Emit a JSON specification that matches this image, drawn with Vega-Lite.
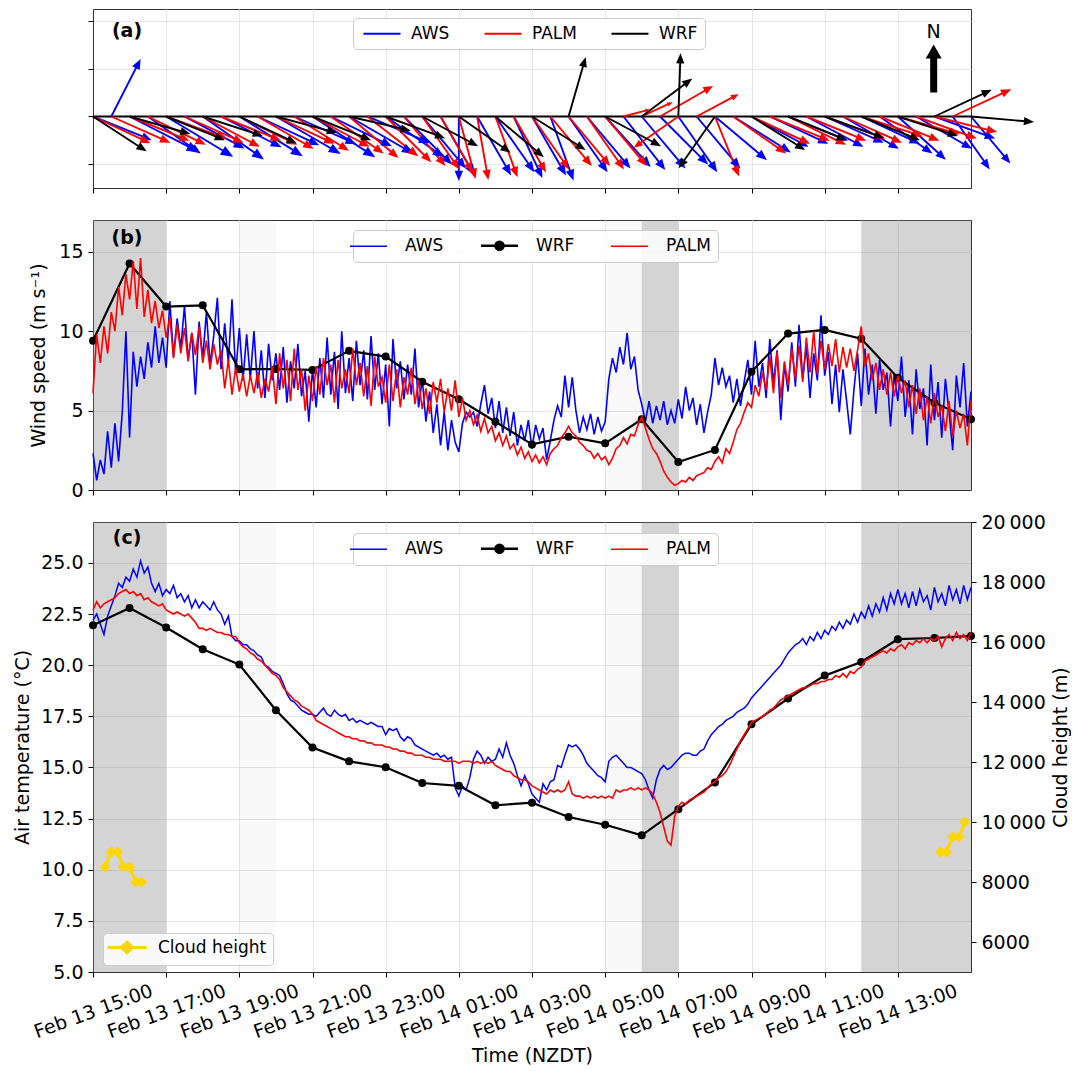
{
"$schema": "https://vega.github.io/schema/vega-lite/v6.json",
"autosize": {"type": "pad"},
"padding": {"left": 13, "top": 8, "right": 0, "bottom": 0},
"background": "white",
"config": {
  "font": "DejaVu Sans",
  "view": {"stroke": "#333333", "strokeWidth": 1},
  "axis": {"labelFont": "DejaVu Sans", "titleFont": "DejaVu Sans", "labelFontSize": 19, "titleFontSize": 19, "titleFontWeight": "normal", "labelColor": "#000000", "titleColor": "#000000", "tickColor": "#000000", "domainColor": "#333333", "gridColor": "#e6e6e6", "gridWidth": 1, "tickSize": 5, "labelPadding": 5, "titlePadding": 8},
  "legend": {"labelFont": "DejaVu Sans", "labelFontSize": 17, "labelColor": "#000000", "padding": 7, "fillColor": "rgba(255,255,255,0.85)", "strokeColor": "#cccccc", "cornerRadius": 4, "symbolSize": 1369, "symbolStrokeWidth": 1.8, "labelOffset": 13, "columnPadding": 32, "direction": "horizontal", "orient": "none"}
},
"datasets": {
  "shade": [{"h0":0,"h1":2,"k":"d"},{"h0":4,"h1":5,"k":"l"},{"h0":14,"h1":15,"k":"l"},{"h0":15,"h1":16,"k":"d"},{"h0":21,"h1":24,"k":"d"}],
  "wrf": [{"h":0,"ws":9.4,"t":21.95},{"h":1,"ws":14.26,"t":22.8},{"h":2,"ws":11.55,"t":21.84},{"h":3,"ws":11.63,"t":20.78},{"h":4,"ws":7.6,"t":20.03},{"h":5,"ws":7.62,"t":17.8},{"h":6,"ws":7.56,"t":15.97},{"h":7,"ws":8.76,"t":15.3},{"h":8,"ws":8.4,"t":15.01},{"h":9,"ws":6.82,"t":14.24},{"h":10,"ws":5.71,"t":14.1},{"h":11,"ws":4.3,"t":13.15},{"h":12,"ws":2.87,"t":13.28},{"h":13,"ws":3.36,"t":12.58},{"h":14,"ws":2.94,"t":12.2},{"h":15,"ws":4.45,"t":11.68},{"h":16,"ws":1.76,"t":12.96},{"h":17,"ws":2.52,"t":14.26},{"h":18,"ws":7.45,"t":17.11},{"h":19,"ws":9.85,"t":18.37},{"h":20,"ws":10.08,"t":19.49},{"h":21,"ws":9.53,"t":20.16},{"h":22,"ws":7.07,"t":21.27},{"h":23,"ws":5.5,"t":21.33},{"h":24,"ws":4.45,"t":21.43}],
  "cloud": [{"h":0.33,"c":8500,"g":1},{"h":0.5,"c":9000,"g":1},{"h":0.67,"c":9000,"g":1},{"h":0.83,"c":8500,"g":1},{"h":1.0,"c":8500,"g":1},{"h":1.17,"c":8000,"g":1},{"h":1.33,"c":8000,"g":1},{"h":23.17,"c":9000,"g":2},{"h":23.33,"c":9000,"g":2},{"h":23.5,"c":9500,"g":2},{"h":23.67,"c":9500,"g":2},{"h":23.83,"c":10000,"g":2}],
  "ws": [
{"h":0.0,"a":2.3,"p":6.1},{"h":0.1,"a":0.6,"p":9.8},{"h":0.2,"a":1.9,"p":8.0},{"h":0.3,"a":1.0,"p":10.3},{"h":0.4,"a":3.7,"p":8.6},{"h":0.5,"a":1.4,"p":11.2},{"h":0.6,"a":4.2,"p":10.0},{"h":0.7,"a":1.8,"p":12.8},{"h":0.8,"a":4.9,"p":11.0},{"h":0.9,"a":10.0,"p":13.6},
{"h":1.0,"a":3.3,"p":12.0},{"h":1.1,"a":8.7,"p":14.4},{"h":1.2,"a":6.5,"p":11.4},{"h":1.3,"a":8.4,"p":14.6},{"h":1.4,"a":7.0,"p":10.9},{"h":1.5,"a":9.3,"p":12.6},{"h":1.6,"a":7.7,"p":10.5},{"h":1.7,"a":10.3,"p":11.9},{"h":1.8,"a":8.0,"p":10.2},{"h":1.9,"a":9.6,"p":11.3},
{"h":2.0,"a":7.7,"p":9.6},{"h":2.1,"a":11.9,"p":10.9},{"h":2.2,"a":8.4,"p":8.3},{"h":2.3,"a":10.8,"p":10.4},{"h":2.4,"a":8.9,"p":8.6},{"h":2.5,"a":11.6,"p":10.2},{"h":2.6,"a":8.2,"p":8.1},{"h":2.7,"a":9.9,"p":9.9},{"h":2.8,"a":6.0,"p":8.5},{"h":2.9,"a":10.6,"p":10.3},
{"h":3.0,"a":8.3,"p":8.0},{"h":3.1,"a":11.2,"p":9.4},{"h":3.2,"a":7.9,"p":7.6},{"h":3.3,"a":9.7,"p":9.2},{"h":3.4,"a":12.1,"p":7.9},{"h":3.5,"a":7.6,"p":8.8},{"h":3.6,"a":10.5,"p":6.4},{"h":3.7,"a":8.0,"p":8.2},{"h":3.8,"a":12.0,"p":6.0},{"h":3.9,"a":7.3,"p":7.7},
{"h":4.0,"a":10.2,"p":6.2},{"h":4.1,"a":6.9,"p":7.3},{"h":4.2,"a":9.8,"p":5.9},{"h":4.3,"a":7.0,"p":7.2},{"h":4.4,"a":10.0,"p":6.1},{"h":4.5,"a":6.4,"p":7.4},{"h":4.6,"a":8.8,"p":5.8},{"h":4.7,"a":5.8,"p":7.0},{"h":4.8,"a":9.2,"p":6.2},{"h":4.9,"a":6.9,"p":7.8},
{"h":5.0,"a":8.6,"p":5.4},{"h":5.1,"a":6.3,"p":8.6},{"h":5.2,"a":9.0,"p":6.4},{"h":5.3,"a":5.5,"p":8.2},{"h":5.4,"a":8.1,"p":5.6},{"h":5.5,"a":6.4,"p":8.9},{"h":5.6,"a":9.2,"p":6.3},{"h":5.7,"a":5.9,"p":7.6},{"h":5.8,"a":7.5,"p":5.0},{"h":5.9,"a":4.3,"p":7.2},
{"h":6.0,"a":7.6,"p":5.6},{"h":6.1,"a":5.2,"p":7.8},{"h":6.2,"a":8.3,"p":6.0},{"h":6.3,"a":5.8,"p":8.3},{"h":6.4,"a":9.6,"p":6.6},{"h":6.5,"a":6.0,"p":7.9},{"h":6.6,"a":8.7,"p":5.5},{"h":6.7,"a":5.1,"p":8.2},{"h":6.8,"a":10.0,"p":6.4},{"h":6.9,"a":6.1,"p":7.6},
{"h":7.0,"a":8.3,"p":6.1},{"h":7.1,"a":5.6,"p":8.9},{"h":7.2,"a":9.4,"p":6.6},{"h":7.3,"a":6.6,"p":8.0},{"h":7.4,"a":8.8,"p":5.9},{"h":7.5,"a":5.7,"p":7.8},{"h":7.6,"a":9.7,"p":5.3},{"h":7.7,"a":6.3,"p":8.4},{"h":7.8,"a":8.6,"p":6.5},{"h":7.9,"a":5.4,"p":7.1},
{"h":8.0,"a":7.9,"p":5.5},{"h":8.1,"a":4.0,"p":7.9},{"h":8.2,"a":9.5,"p":5.6},{"h":8.3,"a":6.4,"p":7.6},{"h":8.4,"a":8.1,"p":5.2},{"h":8.5,"a":5.7,"p":7.1},{"h":8.6,"a":7.9,"p":6.0},{"h":8.7,"a":6.0,"p":7.7},{"h":8.8,"a":8.9,"p":5.4},{"h":8.9,"a":5.2,"p":6.9},
{"h":9.0,"a":7.0,"p":5.1},{"h":9.1,"a":4.3,"p":6.4},{"h":9.2,"a":6.2,"p":4.8},{"h":9.3,"a":3.6,"p":6.8},{"h":9.4,"a":5.4,"p":5.5},{"h":9.5,"a":2.8,"p":7.0},{"h":9.6,"a":4.9,"p":4.9},{"h":9.7,"a":2.5,"p":6.4},{"h":9.8,"a":4.4,"p":5.0},{"h":9.9,"a":3.0,"p":6.9},
{"h":10.0,"a":2.4,"p":4.6},{"h":10.1,"a":4.2,"p":5.8},{"h":10.2,"a":4.9,"p":4.4},{"h":10.3,"a":4.6,"p":5.0},{"h":10.4,"a":4.9,"p":4.1},{"h":10.5,"a":4.0,"p":4.7},{"h":10.6,"a":5.4,"p":3.7},{"h":10.7,"a":6.6,"p":4.5},{"h":10.8,"a":4.8,"p":3.6},{"h":10.9,"a":5.8,"p":4.0},
{"h":11.0,"a":3.9,"p":3.1},{"h":11.1,"a":5.6,"p":3.6},{"h":11.2,"a":3.6,"p":2.8},{"h":11.3,"a":5.2,"p":3.4},{"h":11.4,"a":3.4,"p":2.6},{"h":11.5,"a":4.9,"p":2.9},{"h":11.6,"a":2.8,"p":2.2},{"h":11.7,"a":4.1,"p":2.7},{"h":11.8,"a":3.1,"p":2.0},{"h":11.9,"a":4.4,"p":2.4},
{"h":12.0,"a":2.6,"p":1.8},{"h":12.1,"a":4.1,"p":2.2},{"h":12.2,"a":3.2,"p":1.7},{"h":12.3,"a":3.9,"p":2.1},{"h":12.4,"a":1.9,"p":1.6},{"h":12.5,"a":3.1,"p":2.3},{"h":12.6,"a":4.4,"p":2.6},{"h":12.7,"a":5.3,"p":2.8},{"h":12.8,"a":4.6,"p":3.3},{"h":12.9,"a":7.2,"p":3.6},
{"h":13.0,"a":5.2,"p":4.0},{"h":13.1,"a":7.1,"p":3.6},{"h":13.2,"a":5.0,"p":3.4},{"h":13.3,"a":3.6,"p":3.0},{"h":13.4,"a":4.6,"p":2.8},{"h":13.5,"a":3.8,"p":2.5},{"h":13.6,"a":4.8,"p":2.4},{"h":13.7,"a":3.5,"p":2.0},{"h":13.8,"a":4.6,"p":2.3},{"h":13.9,"a":3.7,"p":1.9},
{"h":14.0,"a":4.3,"p":2.1},{"h":14.1,"a":7.0,"p":1.6},{"h":14.2,"a":8.3,"p":2.0},{"h":14.3,"a":7.4,"p":2.6},{"h":14.4,"a":9.0,"p":2.8},{"h":14.5,"a":7.9,"p":3.3},{"h":14.6,"a":9.9,"p":2.9},{"h":14.7,"a":7.6,"p":3.5},{"h":14.8,"a":8.4,"p":3.4},{"h":14.9,"a":6.3,"p":4.1},
{"h":15.0,"a":5.4,"p":4.6},{"h":15.1,"a":4.3,"p":3.9},{"h":15.2,"a":5.6,"p":3.2},{"h":15.3,"a":4.2,"p":2.6},{"h":15.4,"a":5.3,"p":2.3},{"h":15.5,"a":4.4,"p":1.8},{"h":15.6,"a":5.6,"p":1.2},{"h":15.7,"a":4.1,"p":0.8},{"h":15.8,"a":5.0,"p":0.5},{"h":15.9,"a":4.2,"p":0.3},
{"h":16.0,"a":5.7,"p":0.4},{"h":16.1,"a":4.5,"p":0.6},{"h":16.2,"a":6.5,"p":0.5},{"h":16.3,"a":5.0,"p":0.8},{"h":16.4,"a":5.8,"p":0.6},{"h":16.5,"a":4.1,"p":0.9},{"h":16.6,"a":5.4,"p":1.0},{"h":16.7,"a":3.6,"p":1.1},{"h":16.8,"a":4.9,"p":1.4},{"h":16.9,"a":6.0,"p":1.3},
{"h":17.0,"a":8.3,"p":1.8},{"h":17.1,"a":6.6,"p":2.1},{"h":17.2,"a":7.7,"p":1.7},{"h":17.3,"a":6.5,"p":2.6},{"h":17.4,"a":7.2,"p":2.3},{"h":17.5,"a":5.5,"p":3.0},{"h":17.6,"a":7.0,"p":3.8},{"h":17.7,"a":5.3,"p":4.2},{"h":17.8,"a":6.8,"p":4.9},{"h":17.9,"a":8.2,"p":5.5},
{"h":18.0,"a":6.0,"p":5.2},{"h":18.1,"a":9.4,"p":6.6},{"h":18.2,"a":6.5,"p":5.9},{"h":18.3,"a":8.0,"p":7.4},{"h":18.4,"a":5.8,"p":6.3},{"h":18.5,"a":9.5,"p":8.4},{"h":18.6,"a":6.7,"p":6.1},{"h":18.7,"a":8.8,"p":8.7},{"h":18.8,"a":4.4,"p":5.8},{"h":18.9,"a":7.9,"p":8.1},
{"h":19.0,"a":6.2,"p":6.6},{"h":19.1,"a":9.3,"p":8.9},{"h":19.2,"a":6.5,"p":7.0},{"h":19.3,"a":10.4,"p":9.1},{"h":19.4,"a":7.0,"p":6.8},{"h":19.5,"a":9.1,"p":9.6},{"h":19.6,"a":5.8,"p":7.4},{"h":19.7,"a":8.6,"p":10.0},{"h":19.8,"a":6.9,"p":7.3},{"h":19.9,"a":11.0,"p":9.4},
{"h":20.0,"a":7.2,"p":7.6},{"h":20.1,"a":8.7,"p":9.2},{"h":20.2,"a":5.4,"p":7.8},{"h":20.3,"a":7.9,"p":9.5},{"h":20.4,"a":4.9,"p":7.4},{"h":20.5,"a":7.6,"p":9.0},{"h":20.6,"a":5.6,"p":7.7},{"h":20.7,"a":3.5,"p":8.9},{"h":20.8,"a":6.3,"p":7.5},{"h":20.9,"a":8.6,"p":8.8},
{"h":21.0,"a":5.3,"p":10.3},{"h":21.1,"a":8.9,"p":7.8},{"h":21.2,"a":6.0,"p":8.6},{"h":21.3,"a":7.9,"p":6.9},{"h":21.4,"a":4.8,"p":8.0},{"h":21.5,"a":8.2,"p":6.3},{"h":21.6,"a":6.3,"p":7.6},{"h":21.7,"a":7.4,"p":6.0},{"h":21.8,"a":4.0,"p":7.4},{"h":21.9,"a":7.3,"p":5.9},
{"h":22.0,"a":5.6,"p":7.2},{"h":22.1,"a":8.4,"p":6.1},{"h":22.2,"a":4.6,"p":6.9},{"h":22.3,"a":6.9,"p":5.2},{"h":22.4,"a":3.5,"p":6.6},{"h":22.5,"a":7.6,"p":4.8},{"h":22.6,"a":5.1,"p":6.4},{"h":22.7,"a":6.4,"p":4.4},{"h":22.8,"a":2.8,"p":5.9},{"h":22.9,"a":7.9,"p":4.2},
{"h":23.0,"a":4.4,"p":6.1},{"h":23.1,"a":6.8,"p":4.6},{"h":23.2,"a":3.3,"p":5.3},{"h":23.3,"a":7.0,"p":3.7},{"h":23.4,"a":4.9,"p":5.6},{"h":23.5,"a":2.5,"p":3.4},{"h":23.6,"a":7.2,"p":5.0},{"h":23.7,"a":5.2,"p":3.9},{"h":23.8,"a":8.0,"p":4.8},{"h":23.9,"a":4.0,"p":2.8},
{"h":24.0,"a":6.2,"p":5.6}],
  "ta": [
{"h":0.0,"a":22.2,"p":22.7},{"h":0.1,"a":22.5,"p":23.1},{"h":0.2,"a":22.0,"p":22.8},{"h":0.3,"a":21.5,"p":23.0},{"h":0.4,"a":22.4,"p":23.1},{"h":0.5,"a":22.9,"p":23.2},{"h":0.6,"a":23.4,"p":23.3},{"h":0.7,"a":24.0,"p":23.5},{"h":0.8,"a":23.8,"p":23.6},{"h":0.9,"a":24.3,"p":23.7},
{"h":1.0,"a":24.1,"p":23.5},{"h":1.1,"a":24.7,"p":23.6},{"h":1.2,"a":24.3,"p":23.4},{"h":1.3,"a":25.1,"p":23.5},{"h":1.4,"a":24.5,"p":23.2},{"h":1.5,"a":24.8,"p":23.3},{"h":1.6,"a":24.0,"p":23.1},{"h":1.7,"a":23.6,"p":23.0},{"h":1.8,"a":24.0,"p":22.9},{"h":1.9,"a":23.4,"p":23.0},
{"h":2.0,"a":23.7,"p":22.7},{"h":2.1,"a":23.5,"p":22.6},{"h":2.2,"a":23.9,"p":22.5},{"h":2.3,"a":23.3,"p":22.6},{"h":2.4,"a":23.5,"p":22.5},{"h":2.5,"a":23.1,"p":22.4},{"h":2.6,"a":23.4,"p":22.5},{"h":2.7,"a":22.8,"p":22.3},{"h":2.8,"a":23.2,"p":22.1},{"h":2.9,"a":22.8,"p":21.8},
{"h":3.0,"a":23.1,"p":21.8},{"h":3.1,"a":22.9,"p":21.7},{"h":3.2,"a":22.7,"p":21.8},{"h":3.3,"a":23.1,"p":21.7},{"h":3.4,"a":22.7,"p":21.6},{"h":3.5,"a":22.5,"p":21.6},{"h":3.6,"a":22.0,"p":21.5},{"h":3.7,"a":22.4,"p":21.5},{"h":3.8,"a":21.4,"p":21.4},{"h":3.9,"a":21.2,"p":21.4},
{"h":4.0,"a":21.2,"p":21.1},{"h":4.1,"a":21.0,"p":20.9},{"h":4.2,"a":21.0,"p":20.8},{"h":4.3,"a":20.8,"p":20.6},{"h":4.4,"a":20.7,"p":20.5},{"h":4.5,"a":20.5,"p":20.3},{"h":4.6,"a":20.4,"p":20.2},{"h":4.7,"a":20.0,"p":20.0},{"h":4.8,"a":19.9,"p":19.8},{"h":4.9,"a":19.7,"p":19.6},
{"h":5.0,"a":19.6,"p":19.5},{"h":5.1,"a":19.5,"p":19.3},{"h":5.2,"a":19.1,"p":18.9},{"h":5.3,"a":18.6,"p":18.7},{"h":5.4,"a":18.3,"p":18.5},{"h":5.5,"a":18.2,"p":18.3},{"h":5.6,"a":18.0,"p":18.2},{"h":5.7,"a":17.8,"p":18.0},{"h":5.8,"a":17.7,"p":17.9},{"h":5.9,"a":17.6,"p":17.8},
{"h":6.0,"a":17.6,"p":17.6},{"h":6.1,"a":17.5,"p":17.3},{"h":6.2,"a":17.7,"p":17.2},{"h":6.3,"a":17.9,"p":17.1},{"h":6.4,"a":17.6,"p":17.0},{"h":6.5,"a":17.5,"p":16.9},{"h":6.6,"a":17.8,"p":16.8},{"h":6.7,"a":17.6,"p":16.7},{"h":6.8,"a":17.5,"p":16.6},{"h":6.9,"a":17.6,"p":16.5},
{"h":7.0,"a":17.3,"p":16.5},{"h":7.1,"a":17.4,"p":16.4},{"h":7.2,"a":17.2,"p":16.4},{"h":7.3,"a":17.3,"p":16.3},{"h":7.4,"a":17.2,"p":16.3},{"h":7.5,"a":17.1,"p":16.2},{"h":7.6,"a":17.2,"p":16.2},{"h":7.7,"a":17.1,"p":16.1},{"h":7.8,"a":17.0,"p":16.1},{"h":7.9,"a":17.0,"p":16.1},
{"h":8.0,"a":16.6,"p":16.0},{"h":8.1,"a":16.9,"p":16.0},{"h":8.2,"a":16.8,"p":15.9},{"h":8.3,"a":16.9,"p":15.9},{"h":8.4,"a":16.5,"p":15.8},{"h":8.5,"a":16.3,"p":15.8},{"h":8.6,"a":16.5,"p":15.7},{"h":8.7,"a":16.4,"p":15.7},{"h":8.8,"a":16.1,"p":15.6},{"h":8.9,"a":16.0,"p":15.6},
{"h":9.0,"a":15.9,"p":15.6},{"h":9.1,"a":15.8,"p":15.5},{"h":9.2,"a":15.7,"p":15.5},{"h":9.3,"a":15.6,"p":15.4},{"h":9.4,"a":15.7,"p":15.4},{"h":9.5,"a":15.5,"p":15.4},{"h":9.6,"a":15.6,"p":15.3},{"h":9.7,"a":15.4,"p":15.3},{"h":9.8,"a":15.5,"p":15.3},{"h":9.9,"a":14.0,"p":15.3},
{"h":10.0,"a":13.6,"p":15.2},{"h":10.1,"a":14.1,"p":15.3},{"h":10.2,"a":13.9,"p":15.3},{"h":10.3,"a":14.5,"p":15.3},{"h":10.4,"a":15.4,"p":15.2},{"h":10.5,"a":15.8,"p":15.3},{"h":10.6,"a":15.6,"p":15.2},{"h":10.7,"a":15.2,"p":15.3},{"h":10.8,"a":15.5,"p":15.2},{"h":10.9,"a":15.3,"p":15.3},
{"h":11.0,"a":15.4,"p":15.1},{"h":11.1,"a":15.9,"p":15.0},{"h":11.2,"a":15.5,"p":14.9},{"h":11.3,"a":16.2,"p":14.8},{"h":11.4,"a":15.6,"p":14.8},{"h":11.5,"a":15.2,"p":14.6},{"h":11.6,"a":14.6,"p":14.5},{"h":11.7,"a":14.1,"p":14.4},{"h":11.8,"a":14.6,"p":14.4},{"h":11.9,"a":14.2,"p":14.3},
{"h":12.0,"a":13.7,"p":14.1},{"h":12.1,"a":13.5,"p":14.0},{"h":12.2,"a":13.3,"p":13.9},{"h":12.3,"a":14.2,"p":13.8},{"h":12.4,"a":13.9,"p":13.7},{"h":12.5,"a":14.3,"p":13.9},{"h":12.6,"a":14.4,"p":13.8},{"h":12.7,"a":15.1,"p":13.9},{"h":12.8,"a":15.0,"p":13.8},{"h":12.9,"a":15.6,"p":13.9},
{"h":13.0,"a":16.1,"p":14.3},{"h":13.1,"a":16.0,"p":13.7},{"h":13.2,"a":16.1,"p":13.6},{"h":13.3,"a":15.9,"p":13.6},{"h":13.4,"a":15.6,"p":13.5},{"h":13.5,"a":15.2,"p":13.6},{"h":13.6,"a":15.0,"p":13.5},{"h":13.7,"a":14.8,"p":13.6},{"h":13.8,"a":14.6,"p":13.5},{"h":13.9,"a":14.5,"p":13.6},
{"h":14.0,"a":14.3,"p":13.5},{"h":14.1,"a":15.3,"p":13.6},{"h":14.2,"a":15.5,"p":13.5},{"h":14.3,"a":15.6,"p":13.9},{"h":14.4,"a":15.4,"p":13.8},{"h":14.5,"a":15.2,"p":13.9},{"h":14.6,"a":15.0,"p":13.9},{"h":14.7,"a":15.0,"p":14.0},{"h":14.8,"a":14.9,"p":13.9},{"h":14.9,"a":14.8,"p":14.0},
{"h":15.0,"a":14.7,"p":13.9},{"h":15.1,"a":14.4,"p":14.0},{"h":15.2,"a":13.9,"p":13.9},{"h":15.3,"a":13.5,"p":13.7},{"h":15.4,"a":14.4,"p":13.3},{"h":15.5,"a":14.9,"p":12.8},{"h":15.6,"a":15.1,"p":12.1},{"h":15.7,"a":14.9,"p":11.4},{"h":15.8,"a":15.0,"p":11.2},{"h":15.9,"a":15.2,"p":12.6},
{"h":16.0,"a":15.4,"p":13.1},{"h":16.1,"a":15.6,"p":13.3},{"h":16.2,"a":15.7,"p":13.2},{"h":16.3,"a":15.7,"p":13.4},{"h":16.4,"a":15.6,"p":13.5},{"h":16.5,"a":15.6,"p":13.6},{"h":16.6,"a":15.8,"p":13.7},{"h":16.7,"a":15.9,"p":13.8},{"h":16.8,"a":16.3,"p":14.0},{"h":16.9,"a":16.6,"p":14.2},
{"h":17.0,"a":16.8,"p":14.3},{"h":17.1,"a":17.0,"p":14.5},{"h":17.2,"a":17.1,"p":14.6},{"h":17.3,"a":17.3,"p":14.8},{"h":17.4,"a":17.4,"p":15.1},{"h":17.5,"a":17.5,"p":15.5},{"h":17.6,"a":17.7,"p":15.9},{"h":17.7,"a":17.8,"p":16.3},{"h":17.8,"a":17.9,"p":16.6},{"h":17.9,"a":18.1,"p":16.9},
{"h":18.0,"a":18.4,"p":17.2},{"h":18.1,"a":18.6,"p":17.3},{"h":18.2,"a":18.8,"p":17.4},{"h":18.3,"a":19.0,"p":17.5},{"h":18.4,"a":19.2,"p":17.6},{"h":18.5,"a":19.4,"p":17.8},{"h":18.6,"a":19.6,"p":17.9},{"h":18.7,"a":19.8,"p":18.1},{"h":18.8,"a":20.0,"p":18.3},{"h":18.9,"a":20.3,"p":18.4},
{"h":19.0,"a":20.6,"p":18.5},{"h":19.1,"a":20.8,"p":18.6},{"h":19.2,"a":21.0,"p":18.7},{"h":19.3,"a":21.1,"p":18.8},{"h":19.4,"a":21.3,"p":18.9},{"h":19.5,"a":21.0,"p":18.9},{"h":19.6,"a":21.4,"p":19.0},{"h":19.7,"a":21.2,"p":19.1},{"h":19.8,"a":21.6,"p":19.1},{"h":19.9,"a":21.3,"p":19.2},
{"h":20.0,"a":21.7,"p":19.2},{"h":20.1,"a":21.5,"p":19.3},{"h":20.2,"a":21.9,"p":19.3},{"h":20.3,"a":21.7,"p":19.5},{"h":20.4,"a":22.1,"p":19.4},{"h":20.5,"a":21.8,"p":19.6},{"h":20.6,"a":22.2,"p":19.4},{"h":20.7,"a":22.0,"p":19.7},{"h":20.8,"a":22.5,"p":19.6},{"h":20.9,"a":22.1,"p":19.8},
{"h":21.0,"a":22.6,"p":19.9},{"h":21.1,"a":22.3,"p":20.2},{"h":21.2,"a":22.9,"p":20.3},{"h":21.3,"a":22.4,"p":20.4},{"h":21.4,"a":23.0,"p":20.5},{"h":21.5,"a":22.6,"p":20.6},{"h":21.6,"a":23.3,"p":20.7},{"h":21.7,"a":22.7,"p":20.6},{"h":21.8,"a":23.5,"p":20.8},{"h":21.9,"a":23.0,"p":20.7},
{"h":22.0,"a":23.7,"p":20.9},{"h":22.1,"a":23.0,"p":21.0},{"h":22.2,"a":23.5,"p":20.8},{"h":22.3,"a":22.8,"p":21.1},{"h":22.4,"a":23.6,"p":21.0},{"h":22.5,"a":22.9,"p":21.2},{"h":22.6,"a":23.7,"p":21.1},{"h":22.7,"a":23.1,"p":21.3},{"h":22.8,"a":23.4,"p":21.1},{"h":22.9,"a":22.7,"p":21.3},
{"h":23.0,"a":23.8,"p":21.2},{"h":23.1,"a":23.1,"p":21.4},{"h":23.2,"a":23.5,"p":20.9},{"h":23.3,"a":22.9,"p":21.3},{"h":23.4,"a":23.9,"p":21.5},{"h":23.5,"a":23.2,"p":21.2},{"h":23.6,"a":23.7,"p":21.6},{"h":23.7,"a":23.0,"p":21.3},{"h":23.8,"a":23.9,"p":21.5},{"h":23.9,"a":23.2,"p":21.2},
{"h":24.0,"a":23.8,"p":21.6}],
  "quiver": [
{"h":0,"s":"AWS","d":112,"l":9.3},{"h":0.5,"s":"AWS","d":27,"l":9.5},{"h":1,"s":"AWS","d":117,"l":11.5},{"h":1.5,"s":"AWS","d":125,"l":9.5},{"h":2,"s":"AWS","d":121,"l":11.5},{"h":2.5,"s":"AWS","d":118,"l":10},{"h":3,"s":"AWS","d":125,"l":11},{"h":3.5,"s":"AWS","d":117,"l":10},{"h":4,"s":"AWS","d":122,"l":11},{"h":4.5,"s":"AWS","d":115,"l":10},{"h":5,"s":"AWS","d":120,"l":11},{"h":5.5,"s":"AWS","d":114,"l":10},{"h":6,"s":"AWS","d":123,"l":11},{"h":6.5,"s":"AWS","d":116,"l":10},{"h":7,"s":"AWS","d":120,"l":11},{"h":7.5,"s":"AWS","d":113,"l":10},{"h":8,"s":"AWS","d":125,"l":10.5},{"h":8.5,"s":"AWS","d":135,"l":10},{"h":9,"s":"AWS","d":140,"l":10},{"h":9.5,"s":"AWS","d":150,"l":10},{"h":10,"s":"AWS","d":180,"l":9.5},{"h":10.5,"s":"AWS","d":150,"l":10},{"h":11,"s":"AWS","d":145,"l":10},{"h":11.5,"s":"AWS","d":155,"l":10},{"h":12,"s":"AWS","d":150,"l":10},{"h":12.5,"s":"AWS","d":160,"l":10},{"h":13,"s":"AWS","d":145,"l":10},{"h":13.5,"s":"AWS","d":140,"l":10},{"h":14,"s":"AWS","d":138,"l":10},{"h":14.5,"s":"AWS","d":142,"l":10},{"h":15,"s":"AWS","d":140,"l":10},{"h":15.5,"s":"AWS","d":135,"l":10},{"h":16,"s":"AWS","d":145,"l":10},{"h":16.5,"s":"AWS","d":140,"l":10},{"h":17,"s":"AWS","d":130,"l":10},{"h":17.5,"s":"AWS","d":122,"l":10},{"h":18,"s":"AWS","d":118,"l":9.5},{"h":18.5,"s":"AWS","d":115,"l":9.5},{"h":19,"s":"AWS","d":112,"l":9.5},{"h":19.5,"s":"AWS","d":118,"l":9.5},{"h":20,"s":"AWS","d":114,"l":9.5},{"h":20.5,"s":"AWS","d":120,"l":9.5},{"h":21,"s":"AWS","d":115,"l":9.5},{"h":21.5,"s":"AWS","d":125,"l":9.5},{"h":22,"s":"AWS","d":132,"l":9.5},{"h":22.5,"s":"AWS","d":120,"l":9.5},{"h":23,"s":"AWS","d":110,"l":9.5},{"h":23.5,"s":"AWS","d":145,"l":9.5},{"h":24,"s":"AWS","d":140,"l":9},
{"h":0,"s":"PALM","d":115,"l":9.3},{"h":0.5,"s":"PALM","d":114,"l":9.5},{"h":1,"s":"PALM","d":112,"l":9.5},{"h":1.5,"s":"PALM","d":116,"l":9.5},{"h":2,"s":"PALM","d":110,"l":9.5},{"h":2.5,"s":"PALM","d":114,"l":9.5},{"h":3,"s":"PALM","d":118,"l":9.5},{"h":3.5,"s":"PALM","d":112,"l":9.5},{"h":4,"s":"PALM","d":116,"l":9.5},{"h":4.5,"s":"PALM","d":120,"l":9.5},{"h":5,"s":"PALM","d":115,"l":9.5},{"h":5.5,"s":"PALM","d":122,"l":9.5},{"h":6,"s":"PALM","d":118,"l":9.5},{"h":6.5,"s":"PALM","d":125,"l":9.5},{"h":7,"s":"PALM","d":130,"l":9.5},{"h":7.5,"s":"PALM","d":128,"l":9.5},{"h":8,"s":"PALM","d":135,"l":9.5},{"h":8.5,"s":"PALM","d":140,"l":9.5},{"h":9,"s":"PALM","d":145,"l":9.5},{"h":9.5,"s":"PALM","d":150,"l":9.5},{"h":10,"s":"PALM","d":165,"l":9.5},{"h":10.5,"s":"PALM","d":170,"l":9.5},{"h":11,"s":"PALM","d":160,"l":9.5},{"h":11.5,"s":"PALM","d":150,"l":9.5},{"h":12,"s":"PALM","d":145,"l":9.5},{"h":12.5,"s":"PALM","d":140,"l":9.5},{"h":13,"s":"PALM","d":140,"l":9.5},{"h":13.5,"s":"PALM","d":145,"l":9.5},{"h":14,"s":"PALM","d":140,"l":9.5},{"h":14.5,"s":"PALM","d":75,"l":4},{"h":15,"s":"PALM","d":65,"l":5},{"h":15.5,"s":"PALM","d":60,"l":9},{"h":16,"s":"PALM","d":235,"l":8},{"h":16.5,"s":"PALM","d":62,"l":7},{"h":17,"s":"PALM","d":158,"l":9.5},{"h":17.5,"s":"PALM","d":125,"l":9.5},{"h":18,"s":"PALM","d":115,"l":9.5},{"h":18.5,"s":"PALM","d":112,"l":9.5},{"h":19,"s":"PALM","d":116,"l":9.5},{"h":19.5,"s":"PALM","d":112,"l":9.5},{"h":20,"s":"PALM","d":110,"l":9.5},{"h":20.5,"s":"PALM","d":114,"l":9.5},{"h":21,"s":"PALM","d":108,"l":9.5},{"h":21.5,"s":"PALM","d":112,"l":9.5},{"h":22,"s":"PALM","d":106,"l":9.5},{"h":22.5,"s":"PALM","d":110,"l":9.5},{"h":23,"s":"PALM","d":104,"l":9.5},{"h":23.5,"s":"PALM","d":65,"l":9.5},
{"h":0,"s":"WRF","d":123,"l":9.4},{"h":1,"s":"WRF","d":106,"l":9.3},{"h":2,"s":"WRF","d":112,"l":9.3},{"h":3,"s":"WRF","d":108,"l":9.3},{"h":4,"s":"WRF","d":115,"l":9.3},{"h":5,"s":"WRF","d":105,"l":9.3},{"h":6,"s":"WRF","d":112,"l":9.3},{"h":7,"s":"WRF","d":103,"l":9.3},{"h":8,"s":"WRF","d":110,"l":9.3},{"h":9,"s":"WRF","d":118,"l":9.3},{"h":10,"s":"WRF","d":125,"l":9.3},{"h":11,"s":"WRF","d":130,"l":9.3},{"h":12,"s":"WRF","d":122,"l":9.3},{"h":13,"s":"WRF","d":16,"l":9.1},{"h":14,"s":"WRF","d":118,"l":9.3},{"h":15,"s":"WRF","d":53,"l":9.3},{"h":16,"s":"WRF","d":2,"l":9.3},{"h":17,"s":"WRF","d":215,"l":9.3},{"h":18,"s":"WRF","d":122,"l":9.3},{"h":19,"s":"WRF","d":112,"l":9.3},{"h":20,"s":"WRF","d":110,"l":9.3},{"h":21,"s":"WRF","d":112,"l":9.3},{"h":22,"s":"WRF","d":108,"l":9.3},{"h":23,"s":"WRF","d":65,"l":9.3},{"h":24,"s":"WRF","d":95,"l":9.3}]
},
"spacing": 32,
"bounds": "flush",
"resolve": {"scale": {"x": "independent", "y": "independent", "color": "independent", "stroke": "independent"}, "legend": {"color": "independent", "stroke": "independent"}},
"vconcat": [
 {
  "width": 878, "height": 179,
  "layer": [
   {"data": {"values": [{}]},
    "mark": {"type": "rule", "color": "#000000", "strokeWidth": 2},
    "encoding": {
      "x": {"datum": 0, "type": "quantitative", "scale": {"domain": [0, 24], "nice": false, "zero": false}, "axis": {"values": [0,2,4,6,8,10,12,14,16,18,20,22], "labels": false, "title": null, "grid": true}},
      "x2": {"datum": 24},
      "y": {"datum": 0, "type": "quantitative", "scale": {"domain": [-1.49, 2.24], "nice": false, "zero": false}, "axis": {"values": [-1, 0, 1, 2], "labels": false, "title": null, "grid": true}}
    }},
   {"data": {"name": "quiver"},
    "mark": {"type": "line", "strokeWidth": 0},
    "encoding": {
      "x": {"field": "h", "type": "quantitative"},
      "y": {"datum": 0, "type": "quantitative"},
      "color": {"field": "s", "type": "nominal", "scale": {"domain": ["AWS", "PALM", "WRF"], "range": ["#0000ff", "#ff0000", "#000000"]},
        "legend": {"title": null, "legendX": 260, "legendY": 9, "symbolType": "stroke", "symbolSize": 100, "labelOffset": 34, "columnPadding": 30,
          "encode": {"symbols": {"update": {"shape": {"signal": "'M-1,0L6.4,0'"}, "strokeWidth": {"signal": "2.2"}, "opacity": {"signal": "1"}}}}}}
    }},
   {"data": {"name": "quiver"},
    "mark": {"type": "point", "shape": "M0,0L0,-1.75", "filled": false, "strokeWidth": 1.9, "opacity": 1},
    "encoding": {
      "x": {"field": "h", "type": "quantitative"},
      "y": {"datum": 0, "type": "quantitative"},
      "color": {"field": "s", "type": "nominal"},
      "angle": {"field": "d", "type": "quantitative", "scale": {"domain": [0, 360], "range": [0, 360]}},
      "size": {"field": "l", "type": "quantitative", "scale": {"type": "pow", "exponent": 2, "domain": [0, 20], "range": [0, 18496]}, "legend": null}
    }},
   {"data": {"name": "quiver"},
    "mark": {"type": "point", "shape": "M-0.13,-1.68L0,-2L0.13,-1.68Z", "filled": true, "opacity": 1},
    "encoding": {
      "x": {"field": "h", "type": "quantitative"},
      "y": {"datum": 0, "type": "quantitative"},
      "color": {"field": "s", "type": "nominal"},
      "angle": {"field": "d", "type": "quantitative", "scale": {"domain": [0, 360], "range": [0, 360]}},
      "size": {"field": "l", "type": "quantitative", "scale": {"type": "pow", "exponent": 2, "domain": [0, 20], "range": [0, 18496]}, "legend": null}
    }},
   {"data": {"values": [{}]},
    "mark": {"type": "point", "shape": "M-0.146,0L-0.146,-1.42L-0.333,-1.42L0,-2L0.333,-1.42L0.146,-1.42L0.146,0Z", "filled": true, "color": "#000000", "size": 2304, "opacity": 1},
    "encoding": {"x": {"datum": 22.98, "type": "quantitative"}, "y": {"datum": 0.5, "type": "quantitative"}}},
   {"data": {"values": [{}]},
    "mark": {"type": "text", "text": "N", "fontSize": 19, "font": "DejaVu Sans", "color": "#000000", "baseline": "middle", "align": "center"},
    "encoding": {"x": {"datum": 22.98, "type": "quantitative"}, "y": {"datum": 1.77, "type": "quantitative"}}},
   {"data": {"values": [{}]},
    "mark": {"type": "text", "text": "(a)", "fontSize": 19, "fontWeight": "bold", "font": "DejaVu Sans", "color": "#000000", "baseline": "middle", "align": "center"},
    "encoding": {"x": {"datum": 0.93, "type": "quantitative"}, "y": {"datum": 1.79, "type": "quantitative"}}}
  ]
 },
 {
  "width": 878, "height": 270,
  "layer": [
   {"data": {"name": "shade"},
    "mark": {"type": "rect", "color": "#808080"},
    "encoding": {
      "x": {"field": "h0", "type": "quantitative", "scale": {"domain": [0, 24], "nice": false, "zero": false}, "axis": {"values": [0,2,4,6,8,10,12,14,16,18,20,22], "labels": false, "title": null, "grid": true}},
      "x2": {"field": "h1"},
      "opacity": {"field": "k", "type": "ordinal", "scale": {"domain": ["d", "l"], "range": [0.34, 0.05]}, "legend": null}
    }},
   {"data": {"name": "ws"},
    "mark": {"type": "line", "strokeWidth": 1.6},
    "encoding": {
      "x": {"field": "h", "type": "quantitative"},
      "y": {"field": "a", "type": "quantitative", "title": "Wind speed (m s⁻¹)", "scale": {"domain": [0, 17], "nice": false, "zero": false}, "axis": {"values": [0, 5, 10, 15], "grid": true, "titlePadding": 10}},
      "color": {"datum": "AWS", "type": "nominal", "scale": {"domain": ["AWS", "WRF", "PALM"], "range": ["#0000ff", "#000000", "#ff0000"]},
        "legend": {"title": null, "legendX": 260, "legendY": 10, "symbolType": "stroke", "symbolSize": 1369, "labelOffset": 28,
          "encode": {"symbols": {"update": {
            "shape": {"signal": "datum.value === 'WRF' ? 'M-1,0L1,0M0.22,0A0.22,0.22 0 1 1 -0.22,0A0.22,0.22 0 1 1 0.22,0' : 'stroke'"},
            "fill": {"signal": "datum.value === 'WRF' ? '#000000' : 'transparent'"},
            "strokeWidth": {"signal": "datum.value === 'WRF' ? 2.5 : 1.6"}}}}}}
    }},
   {"data": {"name": "wrf"},
    "mark": {"type": "line", "strokeWidth": 2.2, "point": {"filled": true, "size": 64}},
    "encoding": {
      "x": {"field": "h", "type": "quantitative"},
      "y": {"field": "ws", "type": "quantitative", "title": "Wind speed (m s⁻¹)"},
      "color": {"datum": "WRF", "type": "nominal"}
    }},
   {"data": {"name": "ws"},
    "mark": {"type": "line", "strokeWidth": 1.6},
    "encoding": {
      "x": {"field": "h", "type": "quantitative"},
      "y": {"field": "p", "type": "quantitative", "title": "Wind speed (m s⁻¹)"},
      "color": {"datum": "PALM", "type": "nominal"}
    }},
   {"data": {"values": [{}]},
    "mark": {"type": "text", "text": "(b)", "fontSize": 19, "fontWeight": "bold", "font": "DejaVu Sans", "color": "#000000", "baseline": "middle", "align": "center"},
    "encoding": {"x": {"datum": 0.93, "type": "quantitative"}, "y": {"datum": 15.85, "type": "quantitative", "title": "Wind speed (m s⁻¹)"}}}
  ]
 },
 {
  "width": 878, "height": 450,
  "resolve": {"scale": {"y": "independent"}},
  "layer": [
   {"layer": [
     {"data": {"name": "shade"},
      "mark": {"type": "rect", "color": "#808080"},
      "encoding": {
        "x": {"field": "h0", "type": "quantitative", "scale": {"domain": [0, 24], "nice": false, "zero": false},
          "axis": {"values": [0,2,4,6,8,10,12,14,16,18,20,22], "title": "Time (NZDT)", "grid": true, "labelAngle": -20, "labelAlign": "center", "labelBaseline": "middle", "labelPadding": 34, "labelOverlap": false, "labelFlush": false, "titlePadding": 5,
            "labelExpr": "timeFormat(datetime(2020, 1, 13, 15 + datum.value, 0, 0), '%b %d %H:%M')"}},
        "x2": {"field": "h1"},
        "opacity": {"field": "k", "type": "ordinal", "scale": {"domain": ["d", "l"], "range": [0.34, 0.05]}, "legend": null}
      }},
     {"data": {"name": "ta"},
      "mark": {"type": "line", "strokeWidth": 1.5},
      "encoding": {
        "x": {"field": "h", "type": "quantitative", "title": "Time (NZDT)"},
        "y": {"field": "a", "type": "quantitative", "title": "Air temperature (°C)", "scale": {"domain": [5, 27], "nice": false, "zero": false}, "axis": {"values": [5, 7.5, 10, 12.5, 15, 17.5, 20, 22.5, 25], "format": ".1f", "grid": true}},
        "color": {"datum": "AWS", "type": "nominal", "scale": {"domain": ["AWS", "WRF", "PALM"], "range": ["#0000ff", "#000000", "#ff0000"]},
          "legend": {"title": null, "legendX": 260, "legendY": 11, "symbolType": "stroke", "symbolSize": 1369, "labelOffset": 28,
            "encode": {"symbols": {"update": {
              "shape": {"signal": "datum.value === 'WRF' ? 'M-1,0L1,0M0.22,0A0.22,0.22 0 1 1 -0.22,0A0.22,0.22 0 1 1 0.22,0' : 'stroke'"},
              "fill": {"signal": "datum.value === 'WRF' ? '#000000' : 'transparent'"},
              "strokeWidth": {"signal": "datum.value === 'WRF' ? 2.5 : 1.6"}}}}}}
      }},
     {"data": {"name": "wrf"},
      "mark": {"type": "line", "strokeWidth": 2.2, "point": {"filled": true, "size": 64}},
      "encoding": {
        "x": {"field": "h", "type": "quantitative", "title": "Time (NZDT)"},
        "y": {"field": "t", "type": "quantitative", "title": "Air temperature (°C)"},
        "color": {"datum": "WRF", "type": "nominal"}
      }},
     {"data": {"name": "ta"},
      "mark": {"type": "line", "strokeWidth": 1.6},
      "encoding": {
        "x": {"field": "h", "type": "quantitative", "title": "Time (NZDT)"},
        "y": {"field": "p", "type": "quantitative", "title": "Air temperature (°C)"},
        "color": {"datum": "PALM", "type": "nominal"}
      }},
     {"data": {"values": [{}]},
      "mark": {"type": "text", "text": "(c)", "fontSize": 19, "fontWeight": "bold", "font": "DejaVu Sans", "color": "#000000", "baseline": "middle", "align": "center"},
      "encoding": {"x": {"datum": 0.93, "type": "quantitative", "title": "Time (NZDT)"}, "y": {"datum": 26.2, "type": "quantitative", "title": "Air temperature (°C)"}}}
   ]},
   {"data": {"name": "cloud"},
    "encoding": {
      "x": {"field": "h", "type": "quantitative", "title": "Time (NZDT)"},
      "y": {"field": "c", "type": "quantitative", "title": "Cloud height (m)", "scale": {"domain": [5000, 20000], "nice": false, "zero": false},
        "axis": {"orient": "right", "values": [6000, 8000, 10000, 12000, 14000, 16000, 18000, 20000], "grid": false, "titleAngle": -90, "titleBaseline": "top", "titlePadding": 6,
          "labelExpr": "datum.value >= 10000 ? floor(datum.value / 1000) + '\u2009000' : format(datum.value, 'd')"}}
    },
    "layer": [
     {"mark": {"type": "line", "strokeWidth": 3},
      "encoding": {"detail": {"field": "g", "type": "nominal"},
        "stroke": {"datum": "Cloud height", "type": "nominal", "scale": {"domain": ["Cloud height"], "range": ["#ffd700"]},
          "legend": {"title": null, "legendX": 10, "legendY": 411, "symbolType": "stroke", "symbolSize": 100, "labelOffset": 32, "padding": 6,
            "encode": {"symbols": {"update": {
              "shape": {"signal": "'M-2,0L5.8,0M1.9,-1.1L3.0,0L1.9,1.1L0.8,0Z'"},
              "fill": {"signal": "'#ffd700'"},
              "strokeWidth": {"signal": "3"}}}}}}}},
     {"mark": {"type": "point", "filled": true, "shape": "diamond", "size": 121, "color": "#ffd700", "opacity": 1}}
    ]}
  ]
 }
]
}
